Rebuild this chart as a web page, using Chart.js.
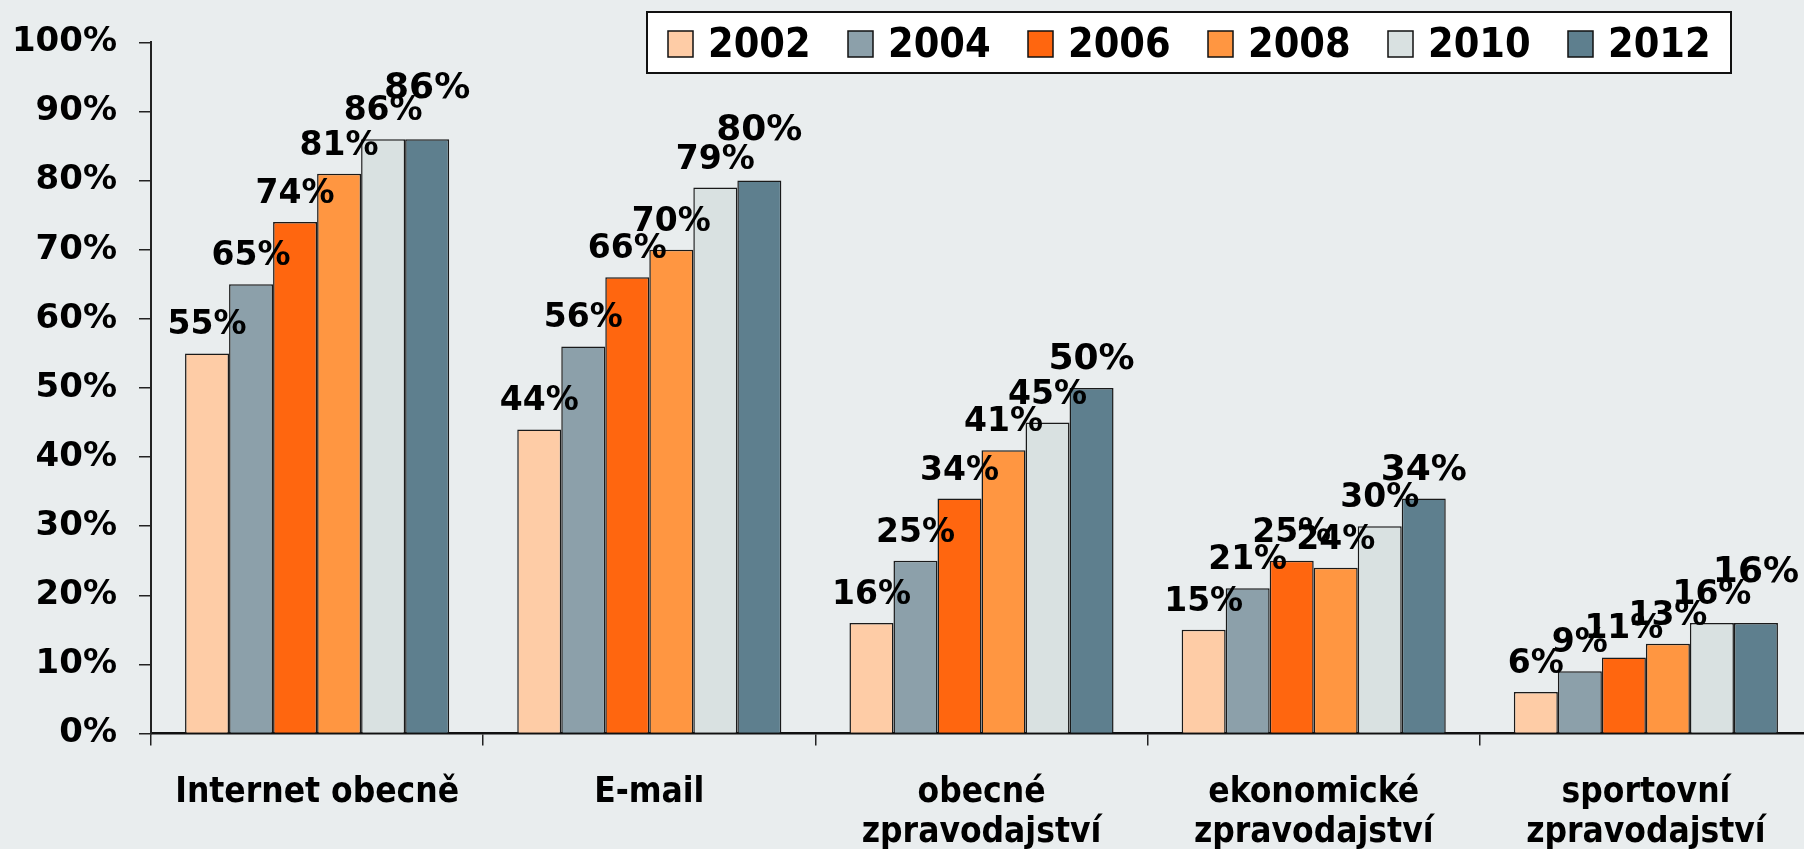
<!DOCTYPE html>
<html>
<head>
<meta charset="utf-8">
<script src="https://cdn.jsdelivr.net/npm/chart.js@4.4.1/dist/chart.umd.min.js"></script>
<style>
  html, body { margin: 0; padding: 0; overflow: hidden; background: #e9edee; }
  #wrap { position: absolute; left: 0; top: 0; width: 1830px; height: 849px; }
</style>
</head>
<body>
<div id="wrap"><canvas id="c"></canvas></div>
<script>
'use strict';

var categories = [
  'Internet obecně',
  'E-mail',
  ['obecné', 'zpravodajství'],
  ['ekonomické', 'zpravodajství'],
  ['sportovní', 'zpravodajství']
];

var years = ['2002', '2004', '2006', '2008', '2010', '2012'];

var s2002 = [55, 44, 16, 15, 6];
var s2004 = [65, 56, 25, 21, 9];
var s2006 = [74, 66, 34, 25, 11];
var s2008 = [81, 70, 41, 24, 13];
var s2010 = [86, 79, 45, 30, 16];
var s2012 = [86, 80, 50, 34, 16];

var yTicks = [0, 10, 20, 30, 40, 50, 60, 70, 80, 90, 100];

var colors = ['#fecca6', '#8ca0aa', '#ff660f', '#ff9641', '#d9e1e1', '#5e7f8e'];
var series = [s2002, s2004, s2006, s2008, s2010, s2012];

// which categories get the last year's label pushed up clear of its neighbour
var liftLast = [true, true, false, false, true];

var wideFont = "'DejaVu Sans', Verdana, sans-serif";
var narrowFont = "'DejaVu Sans Condensed', 'Liberation Sans Narrow', 'DejaVu Sans', sans-serif";

// value labels above each bar; the last year is set bigger
var valueLabels = {
  id: 'valueLabels',
  afterDatasetsDraw: function (chart) {
    var ctx = chart.ctx;
    ctx.save();
    ctx.fillStyle = '#000';
    ctx.textAlign = 'center';
    ctx.textBaseline = 'alphabetic';
    chart.data.datasets.forEach(function (ds, di) {
      var last = di === chart.data.datasets.length - 1;
      ctx.font = 'bold ' + (last ? 36 : 33) + 'px ' + wideFont;
      chart.getDatasetMeta(di).data.forEach(function (bar, i) {
        var gap = last && liftLast[i] ? 41 : 19;
        ctx.fillText(Math.round(ds.data[i]) + '%', bar.x, bar.y - gap);
      });
    });
    ctx.restore();
  }
};

// boxed legend in the top right corner
var boxLegend = {
  id: 'boxLegend',
  afterDraw: function (chart) {
    var ctx = chart.ctx;
    ctx.save();
    ctx.fillStyle = '#fff';
    ctx.fillRect(647, 12, 1084, 61);
    ctx.strokeStyle = '#111';
    ctx.lineWidth = 2;
    ctx.strokeRect(647, 12, 1084, 61);
    ctx.font = 'bold 41px ' + narrowFont;
    ctx.textAlign = 'left';
    ctx.textBaseline = 'alphabetic';
    chart.data.datasets.forEach(function (ds, i) {
      var x = 668 + i * 180;
      ctx.fillStyle = ds.backgroundColor;
      ctx.fillRect(x, 31, 25, 26);
      ctx.lineWidth = 1.5;
      ctx.strokeRect(x, 31, 25, 26);
      ctx.fillStyle = '#000';
      ctx.fillText(ds.label, x + 40, 57);
    });
    ctx.restore();
  }
};

var datasets = years.map(function (y, i) {
  return {
    label: y,
    data: series[i],
    backgroundColor: colors[i],
    borderColor: '#1a1a1a',
    borderWidth: 1.5,
    barPercentage: 1.0,
    categoryPercentage: 0.795
  };
});

new Chart(document.getElementById('c'), {
  type: 'bar',
  data: { labels: categories, datasets: datasets },
  plugins: [valueLabels, boxLegend],
  options: {
    responsive: true,
    maintainAspectRatio: false,
    animation: false,
    layout: { padding: { top: 41, right: 18, left: 0, bottom: 0 } },
    plugins: {
      legend: { display: false },
      tooltip: { enabled: false }
    },
    scales: {
      x: {
        afterFit: function (scale) { scale.height = 115.5; },
        border: { display: true, color: '#111', width: 2.5 },
        grid: {
          display: true,
          offset: true,
          drawOnChartArea: false,
          drawTicks: true,
          tickLength: 12,
          color: '#222',
          lineWidth: 1.5
        },
        ticks: {
          color: '#000',
          padding: 28,
          maxRotation: 0,
          autoSkip: false,
          font: { family: narrowFont, size: 35, weight: 'bold', lineHeight: 1.125 }
        }
      },
      y: {
        min: 0,
        max: 100,
        afterFit: function (scale) { scale.width = 151; },
        afterBuildTicks: function (scale) {
          scale.ticks = yTicks.map(function (v) { return { value: v }; });
        },
        border: { display: true, color: '#222', width: 2 },
        grid: {
          display: true,
          drawOnChartArea: false,
          drawTicks: true,
          tickLength: 12,
          color: '#222',
          lineWidth: 1.5
        },
        ticks: {
          color: '#000',
          padding: 22,
          callback: function (v) { return v + '%'; },
          font: { family: wideFont, size: 34, weight: 'bold' }
        }
      }
    }
  }
});
</script>
</body>
</html>
